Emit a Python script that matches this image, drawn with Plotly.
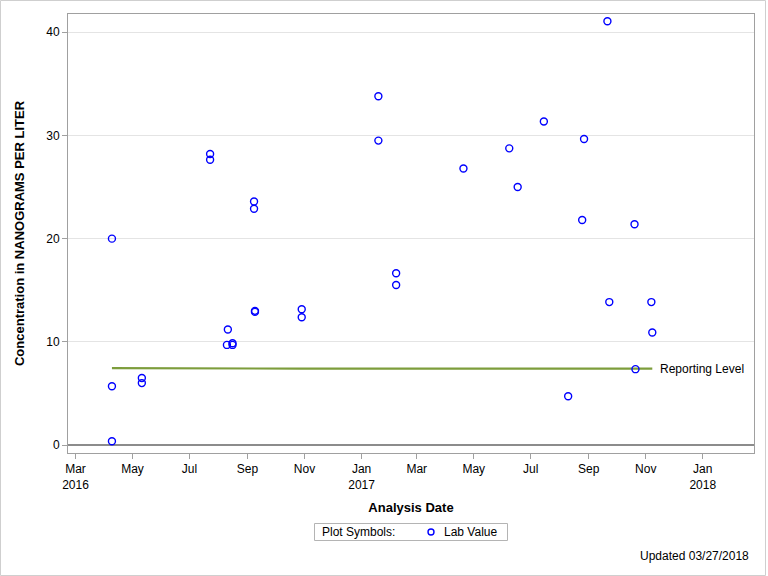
import plotly.graph_objects as go

# ---- data ----
sample_dates = [
    "2016-04-09", "2016-04-09", "2016-04-09",
    "2016-05-11", "2016-05-11",
    "2016-07-23", "2016-07-23",
    "2016-08-10", "2016-08-11", "2016-08-16", "2016-08-16",
    "2016-09-08", "2016-09-08", "2016-09-09", "2016-09-09",
    "2016-10-29", "2016-10-29",
    "2017-01-19", "2017-01-19",
    "2017-02-07", "2017-02-07",
    "2017-04-20",
    "2017-06-08",
    "2017-06-17",
    "2017-07-15",
    "2017-08-10",
    "2017-08-25",
    "2017-08-27",
    "2017-09-21",
    "2017-09-23",
    "2017-10-20",
    "2017-10-21",
    "2017-11-07", "2017-11-08",
]
lab_values = [
    20.0, 5.7, 0.36,
    6.5, 6.0,
    28.2, 27.65,
    9.7, 11.2, 9.86, 9.7,
    23.6, 22.9, 12.9, 13.0,
    13.15, 12.38,
    33.8, 29.5,
    16.65, 15.5,
    26.8,
    28.75,
    25.0,
    31.35,
    4.72,
    21.8,
    29.65,
    41.07,
    13.85,
    21.4,
    7.35,
    13.85, 10.9,
]
reporting_dates = ["2016-04-09", "2016-10-29", "2017-11-08"]
reporting_values = [7.45, 7.4, 7.4]

tick_dates = ["2016-03-01", "2016-05-01", "2016-07-01", "2016-09-01", "2016-11-01",
              "2017-01-01", "2017-03-01", "2017-05-01", "2017-07-01", "2017-09-01",
              "2017-11-01", "2018-01-01"]
tick_labels = ["Mar<br>2016", "May", "Jul", "Sep", "Nov", "Jan<br>2017", "Mar", "May",
               "Jul", "Sep", "Nov", "Jan<br>2018"]
y_ticks = [0, 10, 20, 30, 40]

FONT = "Liberation Sans, Arial, sans-serif"
W, H = 768, 576
ML, MR, MT, MB = 68, 14, 14, 123
PW, PH = W - ML - MR, H - MT - MB


def px_x(px):
    return (px - ML) / PW


def px_y(py):
    return (H - MB - py) / PH


fig = go.Figure()

fig.add_trace(go.Scatter(
    x=reporting_dates, y=reporting_values, mode="lines",
    line=dict(color="#7d9d3c", width=2.2), showlegend=False, hoverinfo="skip",
))

fig.add_trace(go.Scatter(
    x=sample_dates, y=lab_values, mode="markers", name="Lab Value", showlegend=False,
    marker=dict(symbol="circle-open", size=7, color="#0000ff", line=dict(width=1.4, color="#0000ff")),
))

fig.add_annotation(
    x=reporting_dates[-1], y=reporting_values[-1], xref="x", yref="y",
    text="Reporting Level", showarrow=False, xanchor="left", yanchor="middle",
    xshift=6, font=dict(family=FONT, size=12, color="#000000"),
)

fig.add_annotation(
    x=px_x(751), y=px_y(555.5), xref="paper", yref="paper",
    text="Updated 03/27/2018", showarrow=False, xanchor="right", yanchor="middle",
    font=dict(family=FONT, size=12, color="#000000"),
)

# legend box (drawn manually to match the reference layout)
fig.add_shape(type="rect", xref="paper", yref="paper",
              x0=px_x(314.5), x1=px_x(507.5), y0=px_y(523.5), y1=px_y(540.5),
              line=dict(color="#b4b4b4", width=1), fillcolor="white")
fig.add_annotation(
    x=px_x(320), y=px_y(532), xref="paper", yref="paper",
    text="Plot Symbols:", showarrow=False, xanchor="left", yanchor="middle",
    font=dict(family=FONT, size=12, color="#000000"),
)
fig.add_shape(type="circle", xref="paper", yref="paper",
              x0=px_x(428), x1=px_x(434), y0=px_y(529), y1=px_y(535),
              line=dict(color="#0000ff", width=1.4), fillcolor="rgba(0,0,0,0)")
fig.add_annotation(
    x=px_x(442), y=px_y(532), xref="paper", yref="paper",
    text="Lab Value", showarrow=False, xanchor="left", yanchor="middle",
    font=dict(family=FONT, size=12, color="#000000"),
)

# outer page border
fig.add_shape(type="rect", xref="paper", yref="paper",
              x0=px_x(0.5), x1=px_x(765.5), y0=px_y(0.5), y1=px_y(575.5),
              line=dict(color="#cfcfcf", width=1), fillcolor="rgba(0,0,0,0)", layer="below")

fig.update_layout(
    width=W, height=H,
    margin=dict(l=ML, r=MR, t=MT, b=MB, autoexpand=False),
    paper_bgcolor="white", plot_bgcolor="white",
    font=dict(family=FONT, size=12, color="#000000"),
    showlegend=False,
    xaxis=dict(
        type="date", range=["2016-02-22", "2018-02-24 19:00"],
        tickvals=tick_dates, ticktext=tick_labels, tickangle=0,
        showgrid=False, zeroline=False,
        showline=True, linecolor="#a0a0a0", linewidth=1, mirror=True,
        ticks="outside", ticklen=5, tickcolor="#a0a0a0",
        tickfont=dict(family=FONT, size=12, color="#000000"),
        title=dict(text="<b>Analysis Date</b>", standoff=11,
                   font=dict(family=FONT, size=13, color="#000000")),
    ),
    yaxis=dict(
        range=[-0.775, 41.77], tickvals=y_ticks,
        showgrid=True, gridcolor="#e4e4e4", gridwidth=1,
        zeroline=True, zerolinecolor="#8c8c8c", zerolinewidth=2,
        showline=True, linecolor="#a0a0a0", linewidth=1, mirror=True,
        ticks="outside", ticklen=5, tickcolor="#a0a0a0",
        tickfont=dict(family=FONT, size=12, color="#000000"),
        title=dict(text="<b>Concentration in NANOGRAMS PER LITER</b>", standoff=18,
                   font=dict(family=FONT, size=13, color="#000000")),
    ),
)

fig.write_html("out.html")
